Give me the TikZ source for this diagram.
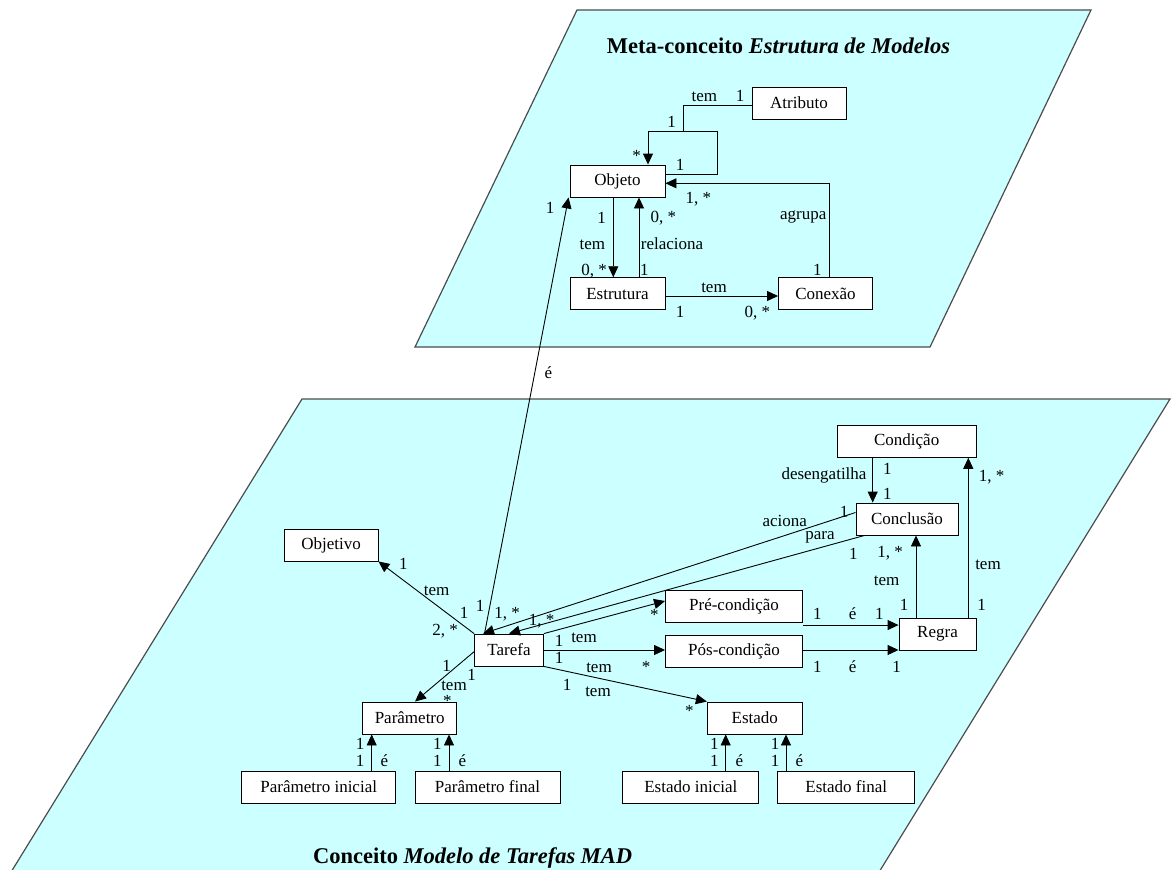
\documentclass[tikz,border=0pt]{standalone}
\usepackage{fontspec}
\setmainfont{Liberation Serif}
\usetikzlibrary{arrows.meta,calc}
\definecolor{plane}{RGB}{204,255,255}
\begin{document}
\begin{tikzpicture}[x=1pt,y=-1pt,
  box/.style={draw=black,fill=white,line width=0.9pt,inner sep=0pt,minimum height=32pt,
              font=\fontsize{17}{19}\selectfont},
  lbl/.style={inner sep=0pt,text height=11.5pt,text depth=0pt,font=\fontsize{17}{19}\selectfont},
  ttl/.style={inner sep=0pt,font=\fontsize{22.5}{26}\selectfont\bfseries},
  link/.style={line width=0.9pt},
  arr/.style={link,-{Triangle[length=11pt,width=10pt]}},
  planeedge/.style={fill=plane,draw=black!70,line width=1.2pt}]

\useasboundingbox (0,0) rectangle (1171,870);

% the two planes
\draw[planeedge] (577,10) -- (1091,10) -- (930,347) -- (415,347) -- cycle;
\draw[planeedge] (302,399) -- (1170,399) -- (1170-0.615*481,880) -- (302-0.615*481,880) -- cycle;

\node[ttl] (title1) at (778.5,46) {Meta-conceito \textit{Estrutura de Modelos}};
\node[ttl] (title2) at (472.6,858) {Conceito \textit{Modelo de Tarefas MAD}};

% ---------- meta-concept: structure of models ----------
\node[box,minimum width=94pt] (atributo) at (799,103) {Atributo};
\node[box,minimum width=95pt] (objeto) at (617.5,181) {Objeto};
\node[box,minimum width=95pt] (estrutura) at (617.5,293.7) {Estrutura};
\node[box,minimum width=94pt] (conexao) at (825.5,293.7) {Conexão};

\coordinate (loopR) at (717,131);
\coordinate (loopL) at (648,131);
\coordinate (loopM) at (683,131);

\draw[arr] ([yshift=6.7pt]objeto.east) -| (loopR) -- (loopL) -- (loopL |- objeto.north);
\draw[link] ([yshift=-2pt]atributo.west) -| (loopM);
\draw[arr] ([xshift=3.5pt]conexao.north) |- ([yshift=-2.3pt]objeto.east);
\draw[arr] ([xshift=-4.2pt]objeto.south) -- ([xshift=-4.2pt]estrutura.north);
\draw[arr] ([xshift=21.5pt]estrutura.north) -- ([xshift=21.5pt]objeto.south);
\draw[arr] ([yshift=-2.3pt]estrutura.east) -- ([yshift=-2.3pt]conexao.west);

\node[lbl] (t1) at (704.3,96) {tem};
\node[lbl] (t2) at (740,96) {1};
\node[lbl] (t3) at (671.7,121.7) {1};
\node[lbl] (t4) at (636.7,155.3) {*};
\node[lbl] (t5) at (680,165) {1};
\node[lbl] (t6) at (698.3,197.3) {1, *};
\node[lbl] (t7) at (803.3,213.5) {agrupa};
\node[lbl] (t8) at (817.3,269.3) {1};
\node[lbl] (t9) at (601.7,217.3) {1};
\node[lbl] (t10) at (663.3,216.7) {0, *};
\node[lbl] (t11) at (592.3,243.3) {tem};
\node[lbl] (t12) at (672,243.3) {relaciona};
\node[lbl] (t13) at (594,269.3) {0, *};
\node[lbl] (t14) at (644.3,269.3) {1};
\node[lbl] (t15) at (714,286.7) {tem};
\node[lbl] (t16) at (680,311.7) {1};
\node[lbl] (t17) at (757.3,311.7) {0, *};

% ---------- concept: MAD task model ----------
\node[box,minimum width=139pt] (condicao) at (906.7,441.3) {Condição};
\node[box,minimum width=102pt] (conclusao) at (907,519) {Conclusão};
\node[box,minimum width=137pt] (pre) at (734,606) {Pré-condição};
\node[box,minimum width=137pt] (pos) at (734,651) {Pós-condição};
\node[box,minimum width=69pt] (tarefa) at (509,650) {Tarefa};
\node[box,minimum width=77pt] (regra) at (937.5,634) {Regra};
\node[box,minimum width=94pt] (objetivo) at (331,545) {Objetivo};
\node[box,minimum width=94pt] (parametro) at (409.7,718) {Parâmetro};
\node[box,minimum width=154pt] (parini) at (318.7,787) {Parâmetro inicial};
\node[box,minimum width=145pt] (parfin) at (487.5,787) {Parâmetro final};
\node[box,minimum width=95pt] (estado) at (754.8,718) {Estado};
\node[box,minimum width=136pt] (estini) at (690.8,787) {Estado inicial};
\node[box,minimum width=137pt] (estfin) at (846.3,787) {Estado final};

% link between the two planes
\draw[arr] ([xshift=10.5pt]tarefa.north west) -- ([xshift=-1pt]objeto.south west);

\draw[arr] ([yshift=6.5pt]conclusao.west) -- ([xshift=9pt]tarefa.north west);
\draw[arr] ([xshift=9pt]conclusao.south west) -- (tarefa.north);
\draw[arr] (tarefa.north east) -- ([yshift=5pt]pre.west);
\draw[arr] (tarefa.east) -- (tarefa.east -| pos.west);
\draw[arr] (tarefa.south east) -- (estado.north west);
\draw[arr] (tarefa.north west) -- (objetivo.south east);
\draw[arr] ([yshift=-1.7pt]tarefa.west) -- ([xshift=5.3pt]parametro.north);
\draw[arr] ([xshift=-34pt]condicao.south) -- ([xshift=-34pt]condicao.south |- conclusao.north);
\draw[arr] ([xshift=30.8pt]regra.north) -- ([xshift=30.8pt]regra.north |- condicao.south);
\draw[arr] ([xshift=-21.5pt]regra.north) -- ([xshift=-21.5pt]regra.north |- conclusao.south);
\draw[arr] ([yshift=-2.6pt]pre.south east) -- ([yshift=-2.6pt]pre.south east -| regra.west);
\draw[arr] ([yshift=1pt]pos.east) -- ([yshift=1pt]pos.east -| regra.west);

\draw[arr] ([xshift=-38pt]parametro.south |- parini.north) -- ([xshift=-38pt]parametro.south);
\draw[arr] ([xshift=39.3pt]parametro.south |- parfin.north) -- ([xshift=39.3pt]parametro.south);
\draw[arr] ([xshift=-29.1pt]estado.south |- estini.north) -- ([xshift=-29.1pt]estado.south);
\draw[arr] ([xshift=31.2pt]estado.south |- estfin.north) -- ([xshift=31.2pt]estado.south);

\node[lbl] (u1) at (548.3,372.7) {é};
\node[lbl] (u2) at (550,208) {1};
\node[lbl] (u3) at (824,474) {desengatilha};
\node[lbl] (u4) at (887.3,468.3) {1};
\node[lbl] (u5) at (887.3,493.3) {1};
\node[lbl] (u6) at (991.7,475.7) {1, *};
\node[lbl] (u7) at (784.7,520.7) {aciona};
\node[lbl] (u8) at (844,511.3) {1};
\node[lbl] (u9) at (820,533.5) {para};
\node[lbl] (u10) at (853.3,554) {1};
\node[lbl] (u11) at (890,552) {1, *};
\node[lbl] (u12) at (886.7,580) {tem};
\node[lbl] (u13) at (904,605) {1};
\node[lbl] (u14) at (988,564) {tem};
\node[lbl] (u15) at (981.7,605) {1};
\node[lbl] (u16) at (817.3,613.3) {1};
\node[lbl] (u17) at (852.7,614) {é};
\node[lbl] (u18) at (879.3,613.3) {1};
\node[lbl] (u19) at (817.3,666.7) {1};
\node[lbl] (u20) at (852.7,666.7) {é};
\node[lbl] (u21) at (896.7,666.7) {1};
\node[lbl] (u22) at (480,606) {1};
\node[lbl] (u23) at (507,613) {1, *};
\node[lbl] (u24) at (541.7,620) {1, *};
\node[lbl] (u25) at (584,636.7) {tem};
\node[lbl] (u26) at (559,641) {1};
\node[lbl] (u27) at (559,657.7) {1};
\node[lbl] (u28) at (654.3,614.3) {*};
\node[lbl] (u29) at (646,666.9) {*};
\node[lbl] (u30) at (599,666.7) {tem};
\node[lbl] (u31) at (567,685) {1};
\node[lbl] (u32) at (598,691) {tem};
\node[lbl] (u33) at (689.3,710.3) {*};
\node[lbl] (u34) at (403.3,563.3) {1};
\node[lbl] (u35) at (436.7,589.3) {tem};
\node[lbl] (u36) at (464,612.7) {1};
\node[lbl] (u37) at (445,630) {2, *};
\node[lbl] (u38) at (446.7,666) {1};
\node[lbl] (u39) at (471.7,675) {1};
\node[lbl] (u40) at (454,685) {tem};
\node[lbl] (u41) at (447.3,700.3) {*};
\node[lbl] (u42) at (360,743.3) {1};
\node[lbl] (u43) at (360,760.7) {1};
\node[lbl] (u44) at (384.3,760.7) {é};
\node[lbl] (u45) at (437.3,743.3) {1};
\node[lbl] (u46) at (437.3,760.7) {1};
\node[lbl] (u47) at (462.3,760.7) {é};
\node[lbl] (u48) at (714.3,744) {1};
\node[lbl] (u49) at (714.3,760.7) {1};
\node[lbl] (u50) at (739.3,760.7) {é};
\node[lbl] (u51) at (775,744) {1};
\node[lbl] (u52) at (775,760.7) {1};
\node[lbl] (u53) at (799.3,760.7) {é};
\end{tikzpicture}
\end{document}
